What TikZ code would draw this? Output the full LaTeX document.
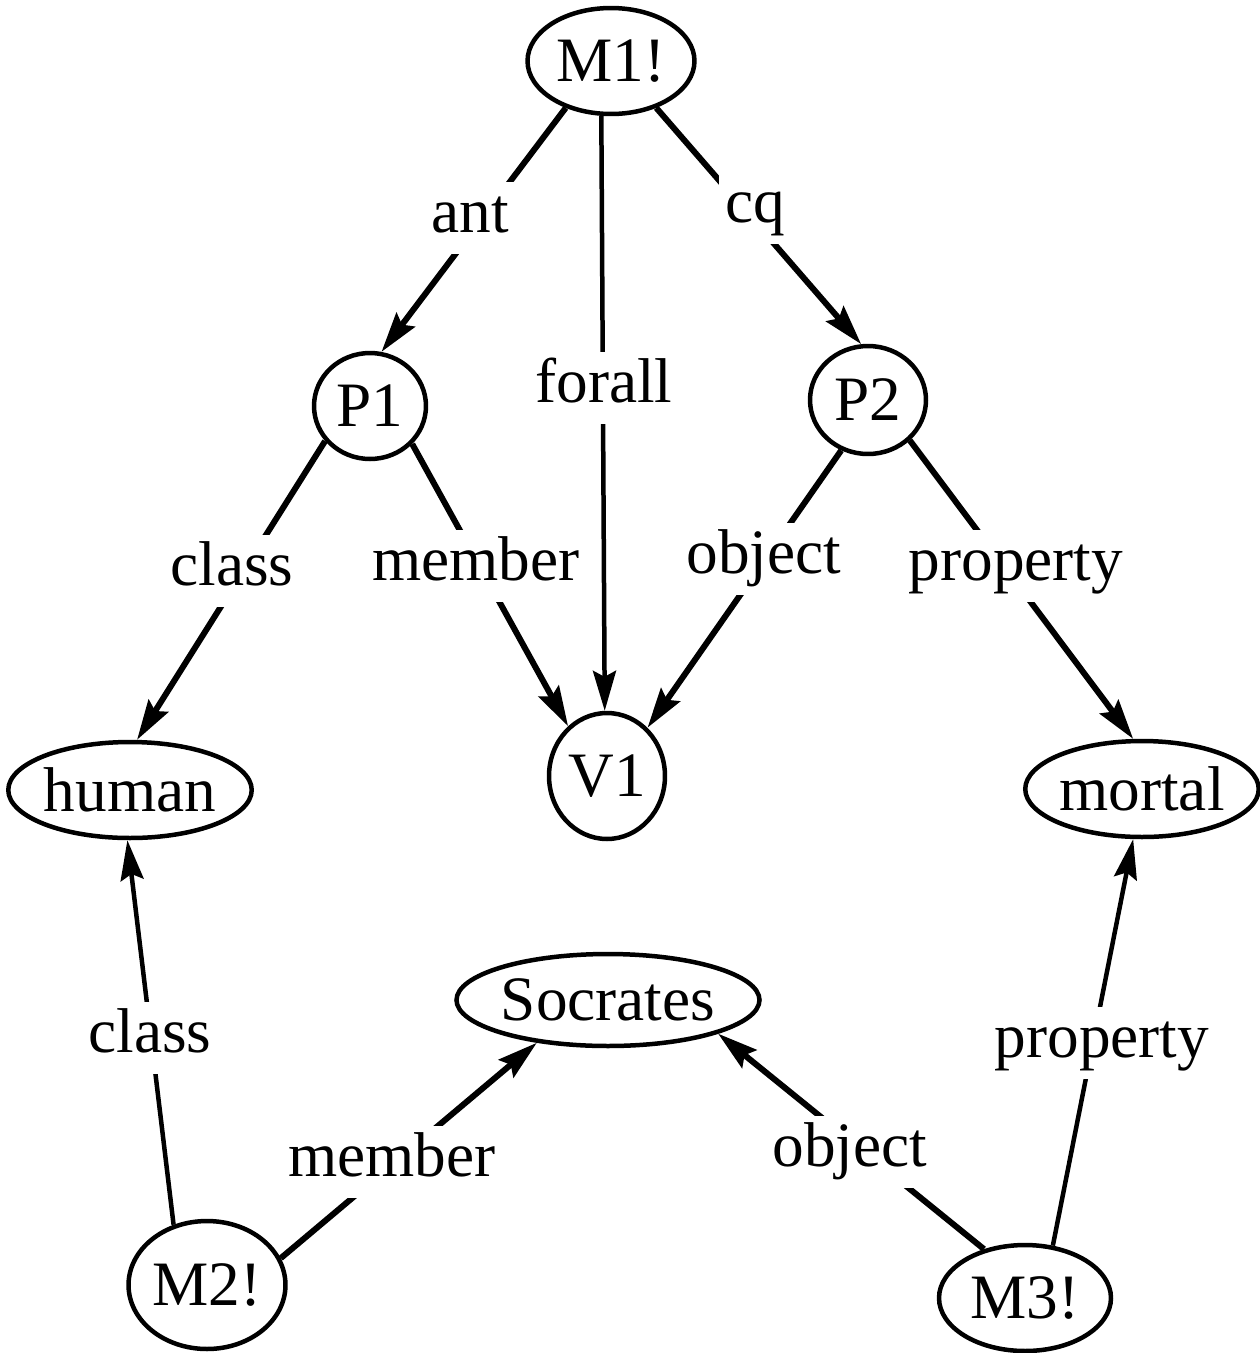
\documentclass[tikz,border=0pt]{standalone}
\usepackage{fontspec}
\setmainfont{Liberation Serif}
\usetikzlibrary{shapes.geometric,arrows.meta}
\begin{document}
\begin{tikzpicture}[x=0.02cm,y=-0.02cm,
  font=\fontsize{36}{43}\selectfont,
  nd/.style={ellipse,draw,line width=0.09cm,inner sep=0pt},
  edge/.style={line width=0.12cm,-{Stealth[length=0.8cm,width=0.46cm,inset=0.12cm]}},
  thinedge/.style={edge,line width=0.09cm},
  lab/.style={fill=white,inner sep=0.12cm,text height=0.88cm,text depth=0.32cm}]
\useasboundingbox (0,0) rectangle (1260,1353);
% nodes
\node[nd,minimum width=3.34cm,minimum height=2.12cm] (M1) at (611,61) {M1!};
\node[nd,minimum width=2.24cm,minimum height=2.12cm] (P1) at (370,406) {P1};
\node[nd,minimum width=2.32cm,minimum height=2.16cm] (P2) at (868,400) {P2};
\node[nd,minimum width=4.58cm,minimum height=1.92cm] (human) at (130,790) {human};
\node[nd,minimum width=2.32cm,minimum height=2.52cm] (V1) at (607,776) {V1};
\node[nd,minimum width=4.58cm,minimum height=1.92cm] (mortal) at (1142,789) {mortal};
\node[nd,minimum width=5.70cm,minimum height=1.84cm] (Soc) at (608,1000) {Socrates};
\node[nd,minimum width=3.14cm,minimum height=2.56cm] (M2) at (207,1285) {M2!};
\node[nd,minimum width=3.44cm,minimum height=2.12cm] (M3) at (1025,1298) {M3!};
% edges
\draw[edge] (M1.226) -- (P1.78);
\draw[thinedge] (M1.260) -- (V1.92);
\draw[edge] (M1.314) -- (P2.97);
\draw[edge] (P1.218) -- (human.82);
\draw[edge] (P1.318) -- (V1.128);
\draw[edge] (P2.242) -- (V1.50);
\draw[edge] (P2.316) -- (mortal.100);
\draw[thinedge] (M2.119) -- (human.267);
\draw[edge] (M2.20) -- (Soc.211);
\draw[edge] (M3.130) -- (Soc.343.6);
\draw[thinedge] (M3.62) -- (mortal.260);
% labels
\node[lab] (l1) at (470,218) {ant};
\node[lab] (l2) at (604,388) {forall};
\node[lab] (l3) at (755,208) {cq};
\node[lab] (l4) at (232,571) {class};
\node[lab] (l5) at (476,566) {member};
\node[lab] (l6) at (764,559) {object};
\node[lab] (l7) at (1016,566) {property};
\node[lab] (l8) at (150,1038) {class};
\node[lab] (l9) at (392,1162) {member};
\node[lab] (l10) at (850,1152) {object};
\node[lab] (l11) at (1102,1043) {property};
\end{tikzpicture}
\end{document}
